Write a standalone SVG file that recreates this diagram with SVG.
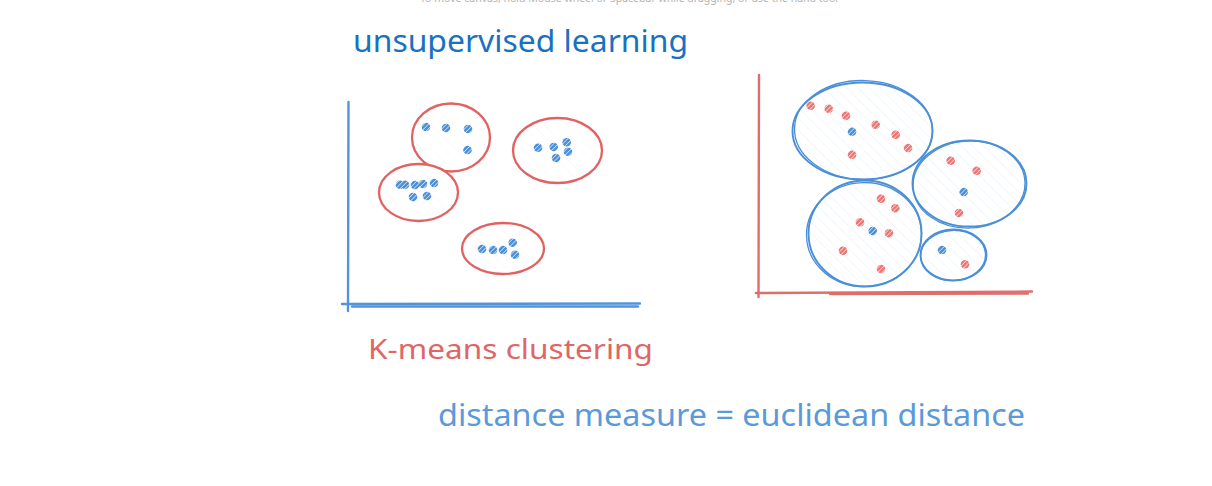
<svg xmlns="http://www.w3.org/2000/svg" width="1212" height="486" viewBox="0 0 1212 486">
<defs>
<style>
.t{font-family:"Noto Sans","DejaVu Sans",sans-serif}
.hint{font-size:11.5px;fill:#b4b4b4}
.axB{stroke:#5293da;stroke-width:2.4;fill:none;stroke-linecap:round}
.axR{stroke:#e06c6c;stroke-width:2.4;fill:none;stroke-linecap:round}
.elR{stroke:#e06262;stroke-width:2.3;fill:url(#hatchR)}
.elB{stroke:#4a8fd8;stroke-width:1.9;fill:url(#hatchB)}
.elB2{stroke:#4a8fd8;stroke-width:1.3;fill:none}
.dB{fill:url(#dotB)}
.dR{fill:url(#dotR)}
</style>
<pattern id="dotB" patternUnits="userSpaceOnUse" width="3.2" height="3.2" patternTransform="rotate(45)">
<rect width="3.2" height="3.2" fill="#4a8fd8"/><rect width="0.7" height="3.2" fill="#dceaf8"/>
</pattern>
<pattern id="dotR" patternUnits="userSpaceOnUse" width="3.2" height="3.2" patternTransform="rotate(45)">
<rect width="3.2" height="3.2" fill="#ec7676"/><rect width="0.7" height="3.2" fill="#fbe2e2"/>
</pattern>
<pattern id="hatchB" patternUnits="userSpaceOnUse" width="8" height="8" patternTransform="rotate(-45)">
<rect width="8" height="8" fill="#fff"/><rect width="1" height="8" fill="#4a8fd8" opacity="0.07"/>
</pattern>
<pattern id="hatchR" patternUnits="userSpaceOnUse" width="8" height="8" patternTransform="rotate(-45)">
<rect width="8" height="8" fill="#fff"/><rect width="1" height="8" fill="#e05d5d" opacity="0.04"/>
</pattern>
</defs>
<rect width="1212" height="486" fill="#ffffff"/>

<g id="hint"><text class="t hint" x="420" y="2" textLength="418" lengthAdjust="spacingAndGlyphs">To move canvas, hold Mouse wheel or Spacebar while dragging, or use the hand tool</text></g>

<g id="title"><text class="t" x="353" y="52" font-size="30" fill="#1971c2" textLength="335" lengthAdjust="spacingAndGlyphs">unsupervised learning</text></g>
<g id="kmeans"><text class="t" x="368" y="359" font-size="28" fill="#e06666" textLength="285" lengthAdjust="spacingAndGlyphs">K-means clustering</text></g>
<g id="distance"><text class="t" x="438" y="426" font-size="31" fill="#5b9ad8" textLength="587" lengthAdjust="spacingAndGlyphs">distance measure = euclidean distance</text></g>

<g id="axes">
<path class="axB" d="M348.5 102 L348 311"/>
<path class="axB" d="M342 304 L640 303.5" />
<path class="axB" d="M352 306.5 L638 306.5" stroke-width="1.5"/>
<path class="axR" d="M759 75 L758.5 297"/>
<path class="axR" d="M756 293 L1032 291.5"/>
<path class="axR" d="M830 294 L1028 293.5" stroke-width="1.3"/>
</g>

<g id="cluster-top">
<ellipse class="elR" cx="451" cy="137.5" rx="39" ry="34"/>
<circle class="dB" cx="426" cy="127" r="4.3"/><circle class="dB" cx="446" cy="128" r="4.3"/><circle class="dB" cx="468" cy="129" r="4.3"/><circle class="dB" cx="467.5" cy="150" r="4.3"/>
</g>
<g id="cluster-left">
<ellipse class="elR" cx="418.5" cy="192.5" rx="39.5" ry="28.5"/>
<circle class="dB" cx="400" cy="184.7" r="4.3"/><circle class="dB" cx="405" cy="184.7" r="4.3"/><circle class="dB" cx="415" cy="185" r="4.3"/><circle class="dB" cx="423" cy="184" r="4.3"/><circle class="dB" cx="434" cy="183" r="4.3"/><circle class="dB" cx="413" cy="197" r="4.3"/><circle class="dB" cx="427" cy="196" r="4.3"/>
</g>
<g id="cluster-right">
<ellipse class="elR" cx="557.5" cy="150.5" rx="44.5" ry="32.5"/>
<circle class="dB" cx="538" cy="147.7" r="4.3"/><circle class="dB" cx="553.7" cy="147" r="4.3"/><circle class="dB" cx="566.7" cy="142.3" r="4.3"/><circle class="dB" cx="568" cy="151.7" r="4.3"/><circle class="dB" cx="556" cy="158" r="4.3"/>
</g>
<g id="cluster-bottom">
<ellipse class="elR" cx="503" cy="248.5" rx="41" ry="25.5"/>
<circle class="dB" cx="482" cy="249" r="4.3"/><circle class="dB" cx="493" cy="250" r="4.3"/><circle class="dB" cx="503" cy="250" r="4.3"/><circle class="dB" cx="512.7" cy="242.7" r="4.3"/><circle class="dB" cx="515" cy="254.7" r="4.3"/>
</g>

<g id="region-a">
<ellipse class="elB" cx="862.5" cy="131" rx="70" ry="48.5"/>
<ellipse class="elB2" cx="863.5" cy="130" rx="69" ry="49.5" transform="rotate(1.5 863 130)"/>
<circle class="dR" cx="810.7" cy="105.7" r="4.3"/><circle class="dR" cx="828.7" cy="108.7" r="4.3"/><circle class="dR" cx="846" cy="115.7" r="4.3"/><circle class="dR" cx="875.7" cy="124.7" r="4.3"/><circle class="dR" cx="895.7" cy="134.7" r="4.3"/><circle class="dR" cx="908" cy="148" r="4.3"/><circle class="dR" cx="852" cy="154.7" r="4.3"/>
<circle class="dB" cx="852" cy="131.7" r="4.3"/>
</g>
<g id="region-b">
<ellipse class="elB" cx="865" cy="233.5" rx="56.5" ry="53"/>
<ellipse class="elB2" cx="864" cy="234.5" rx="57.5" ry="52" transform="rotate(-2 864 234)"/>
<circle class="dR" cx="881" cy="198.7" r="4.3"/><circle class="dR" cx="895.3" cy="208.3" r="4.3"/><circle class="dR" cx="860" cy="222.3" r="4.3"/><circle class="dR" cx="889" cy="233.3" r="4.3"/><circle class="dR" cx="843" cy="250.7" r="4.3"/><circle class="dR" cx="881" cy="269" r="4.3"/>
<circle class="dB" cx="872.7" cy="231" r="4.3"/>
</g>
<g id="region-c">
<ellipse class="elB" cx="969.5" cy="183.5" rx="57" ry="43"/>
<ellipse class="elB2" cx="969" cy="184.5" rx="56" ry="43.5" transform="rotate(-3 969 184)"/>
<circle class="dR" cx="950.7" cy="160.7" r="4.3"/><circle class="dR" cx="976.7" cy="170.7" r="4.3"/><circle class="dR" cx="959" cy="213" r="4.3"/>
<circle class="dB" cx="963.7" cy="192" r="4.3"/>
</g>
<g id="region-d">
<ellipse class="elB" cx="953.5" cy="255" rx="33" ry="25.5"/>
<ellipse class="elB2" cx="953" cy="255.5" rx="32.5" ry="25" transform="rotate(-3 953 255)"/>
<circle class="dB" cx="942" cy="250" r="4.3"/>
<circle class="dR" cx="965" cy="264.3" r="4.3"/>
</g>
</svg>
